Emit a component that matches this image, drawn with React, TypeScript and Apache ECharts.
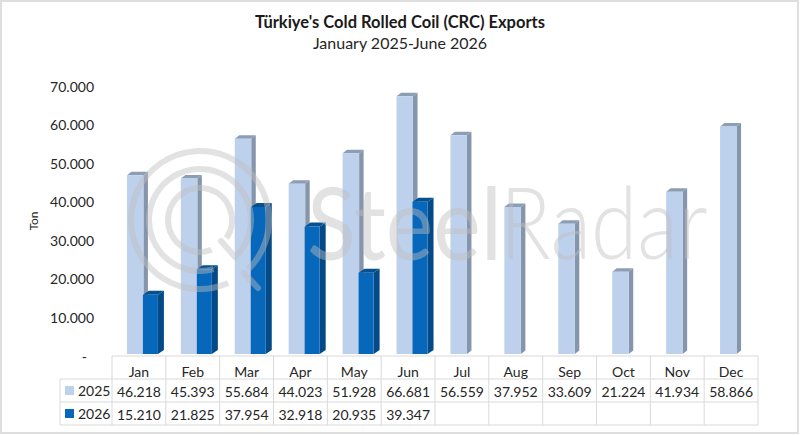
import { useEffect, useRef } from "react";
import * as echarts from "echarts";

const months = ["Jan", "Feb", "Mar", "Apr", "May", "Jun", "Jul", "Aug", "Sep", "Oct", "Nov", "Dec"];
const exports2025 = [46218, 45393, 55684, 44023, 51928, 66681, 56559, 37952, 33609, 21224, 41934, 58866];
const exports2026 = [15210, 21825, 37954, 32918, 20935, 39347];
const yTicks = [0, 10000, 20000, 30000, 40000, 50000, 60000, 70000];

const FONT = "Lato";
const TEXT = "#262626";
const GRID = "#D9D9D9";
const LEFT = 112;
const RIGHT = 758;
const BASE = 356;
const ROWS = [356, 379, 402, 425];

const fmt = (v: number) => String(v).replace(/\B(?=(\d{3})+$)/g, ".");

// fake 3d column, the way excel draws it
const bar3d = (fill: string, side: string, top: string, from: number, to: number, dx: number, dy: number) =>
  (params: any, api: any) => {
    const i = api.value(0);
    const [cx, y] = api.coord([i, api.value(1)]);
    const base = api.coord([i, 0])[1] - 2;
    const shift = i * 0.09;
    const x0 = cx + from + shift;
    const x1 = cx + to + shift;
    const t = y - 2.5;
    const poly = (points: number[][], color: string) => ({
      type: "polygon",
      shape: { points },
      style: { fill: color },
    });
    return {
      type: "group",
      children: [
        poly([[x1, t], [x1 + dx, t - dy], [x1 + dx, base - dy], [x1, base]], side),
        poly([[x0, t], [x0 + dx, t - dy], [x1 + dx, t - dy], [x1, t]], top),
        poly([[x0, t], [x1, t], [x1, base], [x0, base]], fill),
      ],
    };
  };

const tableX = (i: number) => LEFT + ((RIGHT - LEFT) / 12) * i;

const tableLines = () => {
  const line = (x1: number, y1: number, x2: number, y2: number) => ({
    type: "line",
    shape: { x1, y1, x2, y2 },
    style: { stroke: GRID, lineWidth: 1 },
  });
  const out: any[] = [
    line(LEFT, ROWS[0], RIGHT, ROWS[0]),
    line(60, ROWS[1], RIGHT, ROWS[1]),
    line(60, ROWS[2], RIGHT, ROWS[2]),
    line(60, ROWS[3], RIGHT, ROWS[3]),
    line(60, ROWS[1], 60, ROWS[3]),
  ];
  for (let i = 0; i <= 12; i++) out.push(line(tableX(i), ROWS[0], tableX(i), ROWS[3]));
  return out;
};

const legendKey = (y: number, color: string, label: string) => [
  { type: "rect", shape: { x: 65, y, width: 9, height: 9 }, style: { fill: color } },
  {
    type: "text",
    x: 78,
    y: y + 4.5,
    style: { text: label, fill: TEXT, font: `14px ${FONT}`, verticalAlign: "middle" },
  },
];

const ring = (r: number, start: number, end: number) => ({
  type: "arc",
  z: 50,
  shape: { cx: 200, cy: 220, r, startAngle: start, endAngle: end },
  style: { stroke: "#BEBEBE", lineWidth: 6, fill: "none", opacity: 0.45 },
});

const tail = (x1: number, y1: number, x2: number, y2: number) => ({
  type: "line",
  z: 50,
  shape: { x1, y1, x2, y2 },
  style: { stroke: "#BEBEBE", lineWidth: 6, opacity: 0.45, lineCap: "round" },
});

const mark = (text: string, x: number, weight: number, scaleX: number) => ({
  type: "text",
  z: 50,
  x,
  y: 221,
  scaleX,
  style: {
    text,
    fill: "#BEBEBE",
    opacity: 0.45,
    font: `${weight} 100px ${FONT}`,
    verticalAlign: "middle",
  },
});

const App = () => {
  const chartRef = useRef<HTMLDivElement>(null);

  useEffect(() => {
    if (!chartRef.current) return;
    const chart = echarts.init(chartRef.current, null, { renderer: "svg" });

    const rowAxis = (data: string[], offset: number) => ({
      type: "category",
      data,
      position: "bottom",
      offset,
      axisLine: { show: false },
      axisTick: { show: false },
      axisLabel: { interval: 0, color: TEXT, fontFamily: FONT, fontSize: 14, margin: 8 },
    });

    chart.setOption({
      animation: false,
      backgroundColor: "#fff",
      title: {
        left: 395,
        top: 8,
        textAlign: "center",
        text: "Türkiye's Cold Rolled Coil (CRC) Exports",
        subtext: "January 2025-June 2026",
        itemGap: 4,
        textStyle: { fontFamily: FONT, fontSize: 16.5, fontWeight: "bold", color: "#1a1a1a" },
        subtextStyle: { fontFamily: FONT, fontSize: 16, color: TEXT },
      },
      grid: { left: LEFT, top: 86, width: RIGHT - LEFT, height: BASE - 86 },
      xAxis: [
        rowAxis(months, 0),
        rowAxis(exports2025.map(fmt), 20),
        rowAxis(months.map((_, i) => (exports2026[i] != null ? fmt(exports2026[i]) : "")), 43),
      ],
      yAxis: {
        type: "value",
        min: yTicks[0],
        max: yTicks[yTicks.length - 1],
        interval: yTicks[1],
        name: "Ton",
        nameLocation: "middle",
        nameRotate: 90,
        nameGap: 69,
        nameTextStyle: { fontFamily: FONT, fontSize: 12, color: TEXT },
        axisLine: { show: false },
        axisTick: { show: false },
        splitLine: { show: false },
        axisLabel: {
          color: TEXT,
          fontFamily: FONT,
          fontSize: 14,
          margin: 18,
          formatter: (v: number) => (v === 0 ? "-  " : fmt(v)),
        },
      },
      series: [
        {
          name: "2025",
          type: "custom",
          xAxisIndex: 0,
          renderItem: bar3d("#BDD0EC", "#8595AB", "#8C9DB6", -12, 4.5, 4.5, 3.5),
          encode: { x: 0, y: 1 },
          data: exports2025.map((v, i) => [i, v]),
          clip: false,
          z: 2,
        },
        {
          name: "2026",
          type: "custom",
          xAxisIndex: 0,
          renderItem: bar3d("#0767BA", "#044A86", "#06508F", 4, 19, 6, 4),
          encode: { x: 0, y: 1 },
          data: exports2026.map((v, i) => [i, v]),
          clip: false,
          z: 3,
        },
      ],
      graphic: {
        elements: [
          {
            type: "rect",
            z: -1,
            shape: { x: 1, y: 1, width: 797, height: 432 },
            style: { fill: "none", stroke: "#DEDEDE", lineWidth: 2 },
          },
          ...tableLines(),
          ...legendKey(386, "#BDD0EC", "2025"),
          ...legendKey(409, "#0767BA", "2026"),
          ring(69, 1.15, 0.8),
          ring(51, 1.3, 0.75),
          ring(32, 1.2, 0.6),
          tail(221, 241, 235, 257),
          tail(244, 273, 258, 288),
          mark("Steel", 307, 400, 0.9),
          mark("Radar", 500, 300, 0.84),
        ],
      },
    });

    return () => {
      chart.dispose();
    };
  }, []);

  return (
    <div
      ref={chartRef}
      style={{ position: "absolute", left: 0, top: 0, width: "800px", height: "435px" }}
    />
  );
};

export default App;
